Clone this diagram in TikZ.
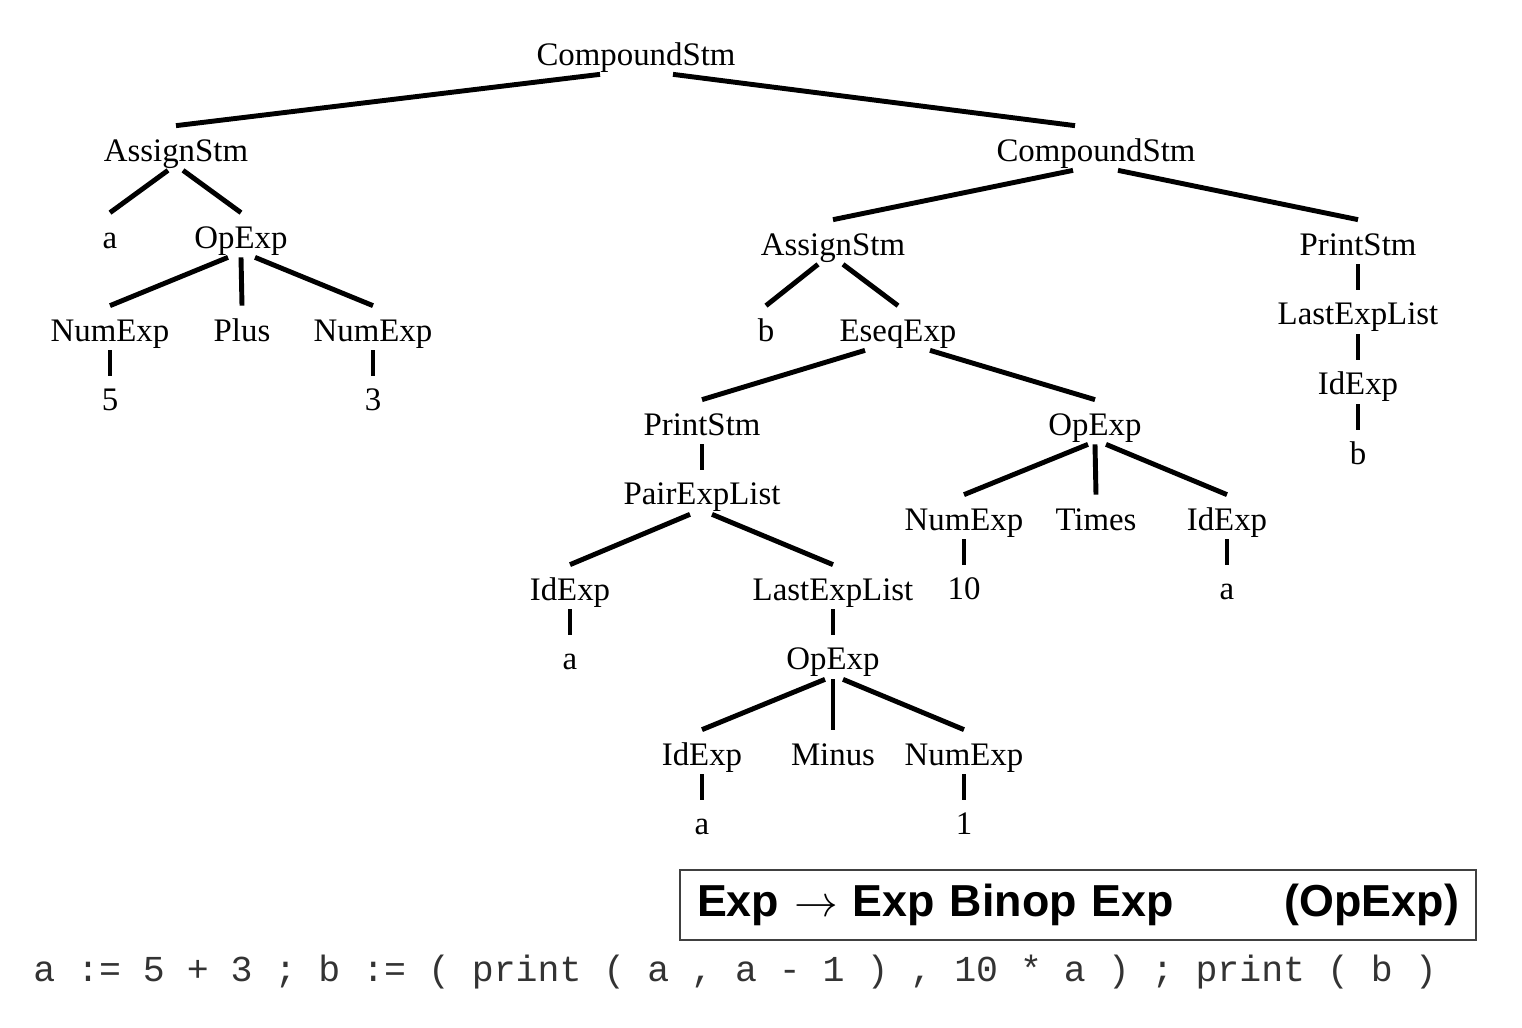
\documentclass[tikz,border=0pt]{standalone}
\usepackage{fontspec}
\setmainfont{Liberation Serif}
\setmonofont{Liberation Mono}
\newfontfamily\rulefont{Liberation Sans}
\usetikzlibrary{calc,positioning}
\tikzset{
    tnode/.style = {inner sep=0pt, text height=0.7cm, text depth=0.18cm,
        font=\fontsize{18.7}{22}\selectfont},
    branch/.style = {draw, line width=2.8pt},
    rulebox/.style = {draw=black!75, line width=0.8pt, rectangle,
        minimum width=15.92cm, minimum height=1.4cm,
        text width=15.24cm, inner xsep=0.34cm, align=left,
        font=\rulefont\bfseries\fontsize{25.5}{30}\selectfont},
    codeline/.style = {inner sep=0pt, text=black!80,
        font=\ttfamily\fontsize{20.8}{25}\selectfont}
}
\begin{document}
\begin{tikzpicture}[node distance=1.4cm, x=0.02cm, y=-0.02cm]
        \useasboundingbox (0,0) rectangle (1522,1028);
        \node [tnode] (root) at (636,52) {CompoundStm};
        \node [tnode] (as1) at (176,148) {AssignStm};
        \node [tnode] (cs2) at (1096,148) {CompoundStm};
        \draw [branch] ([xshift=-0.72cm]root.south) -- (as1.north);
        \draw [branch] ([xshift=0.74cm]root.south) -- ([xshift=-0.42cm]cs2.north);
        % a := 5 + 3
        \node [tnode] (a1) at (110,235) {a};
        \node [tnode] (op1) at (241,235) {OpExp};
        \draw [branch] ([xshift=-0.16cm]as1.south) -- (a1.north);
        \draw [branch] ([xshift=0.14cm]as1.south) -- (op1.north);
        \node [tnode] (num1) at (110,328) {NumExp};
        \node [tnode] (plus) at (242,328) {Plus};
        \node [tnode] (num2) at (373,328) {NumExp};
        \draw [branch] ([xshift=-0.26cm]op1.south) -- (num1.north);
        \draw [branch] (op1.south) -- (plus.north);
        \draw [branch] ([xshift=0.28cm]op1.south) -- (num2.north);
        \node [tnode, below of=num1] (n5) {5};
        \node [tnode, below of=num2] (n3) {3};
        \draw [branch] (num1) -- (n5);
        \draw [branch] (num2) -- (n3);
        % second statement
        \node [tnode] (as2) at (833,242) {AssignStm};
        \node [tnode] (pr2) at (1358,242) {PrintStm};
        \draw [branch] ([xshift=-0.46cm]cs2.south) -- (as2.north);
        \draw [branch] ([xshift=0.44cm]cs2.south) -- (pr2.north);
        \node [tnode, below of=pr2] (lel2) {LastExpList};
        \node [tnode, below of=lel2] (id3) {IdExp};
        \node [tnode, below of=id3] (b2) {b};
        \draw [branch] (pr2) -- (lel2);
        \draw [branch] (lel2) -- (id3);
        \draw [branch] (id3) -- (b2);
        \node [tnode] (b1) at (766,328) {b};
        \node [tnode] (eseq) at (898,328) {EseqExp};
        \draw [branch] ([xshift=-0.3cm]as2.south) -- (b1.north);
        \draw [branch] ([xshift=0.2cm]as2.south) -- (eseq.north);
        \node [tnode] (pr1) at (702,422) {PrintStm};
        \node [tnode] (op2) at (1095,422) {OpExp};
        \draw [branch] ([xshift=-0.66cm]eseq.south) -- (pr1.north);
        \draw [branch] ([xshift=0.64cm]eseq.south) -- (op2.north);
        \node [tnode] (num3) at (964,517) {NumExp};
        \node [tnode] (times) at (1096,517) {Times};
        \node [tnode] (id2) at (1227,517) {IdExp};
        \draw [branch] ([xshift=-0.14cm]op2.south) -- (num3.north);
        \draw [branch] (op2.south) -- (times.north);
        \draw [branch] ([xshift=0.22cm]op2.south) -- (id2.north);
        \node [tnode, below of=num3] (n10) {10};
        \node [tnode, below of=id2] (a4) {a};
        \draw [branch] (num3) -- (n10);
        \draw [branch] (id2) -- (a4);
        \node [tnode, below of=pr1] (pel) {PairExpList};
        \draw [branch] (pr1) -- (pel);
        \node [tnode] (id1) at (570,587) {IdExp};
        \node [tnode] (lel1) at (833,587) {LastExpList};
        \draw [branch] ([xshift=-0.24cm]pel.south) -- (id1.north);
        \draw [branch] ([xshift=0.2cm]pel.south) -- (lel1.north);
        \node [tnode, below of=id1] (a2) {a};
        \node [tnode, below of=lel1] (op3) {OpExp};
        \draw [branch] (id1) -- (a2);
        \draw [branch] (lel1) -- (op3);
        \node [tnode] (id4) at (702,752) {IdExp};
        \node [tnode] (minus) at (833,752) {Minus};
        \node [tnode] (num4) at (964,752) {NumExp};
        \draw [branch] ([xshift=-0.16cm]op3.south) -- (id4.north);
        \draw [branch] (op3.south) -- (minus.north);
        \draw [branch] ([xshift=0.2cm]op3.south) -- (num4.north);
        \node [tnode, below of=id4] (a3) {a};
        \node [tnode, below of=num4] (n1) {1};
        \draw [branch] (id4) -- (a3);
        \draw [branch] (num4) -- (n1);
        % grammar rule and source line
        \node [rulebox] (rule) at (1078,905) {Exp $\rightarrow$ Exp Binop Exp\hfill(OpExp)};
        \node [codeline, anchor=base west] (code) at (33,981) {a := 5 + 3 ; b := ( print ( a , a - 1 ) , 10 * a ) ; print ( b )};
        \end{tikzpicture}
\end{document}
